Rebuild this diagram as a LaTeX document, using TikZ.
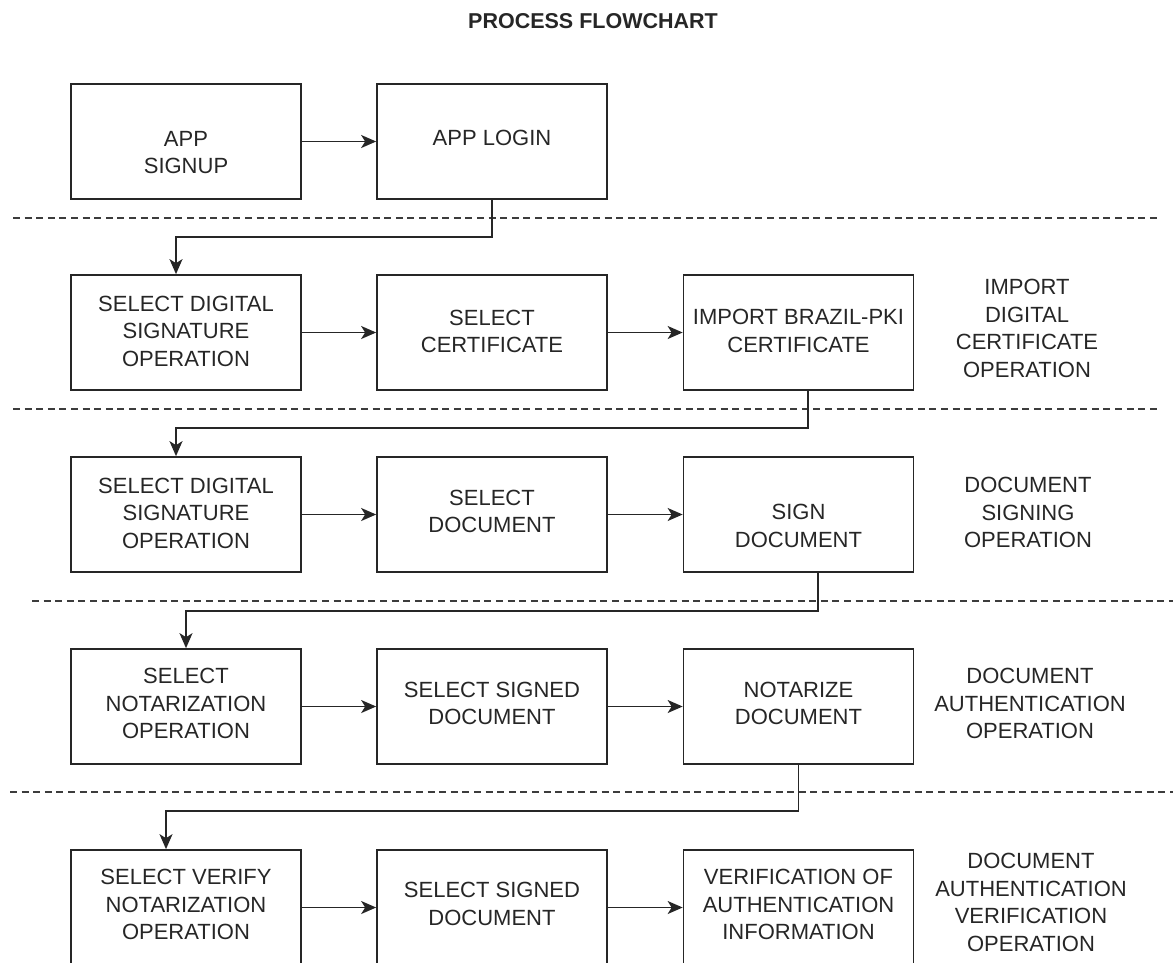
\documentclass[tikz,border=0pt]{standalone}
\usepackage{fontspec}
\setmainfont{Liberation Sans}
\usetikzlibrary{arrows.meta,calc}
\definecolor{ink}{HTML}{262626}
\begin{document}
\begin{tikzpicture}[x=1pt,y=-1pt,
  stepbox/.style={draw=ink, line width=1.7pt, minimum width=230pt, minimum height=115pt, inner sep=0pt},
  txt/.style={text=ink, align=center, font=\fontsize{22}{27.5}\selectfont, inner sep=0pt},
  flow/.style={draw=ink, line width=1.7pt, -{Stealth[length=15pt,width=13pt,inset=4pt]}},
  lane/.style={draw=ink!90, line width=1.4pt, dash pattern=on 7pt off 4.6pt},
]
\useasboundingbox (0,0) rectangle (1173,962);

% title
\node[text=ink, font=\bfseries\fontsize{21.5}{26}\selectfont, inner sep=0pt] (title) at (593,21) {PROCESS FLOWCHART};

% process boxes: columns x = 186, 492, 798.5
\node[stepbox] (b11) at (186,141.5) {};
\node[stepbox] (b12) at (492,141.5) {};
\node[stepbox] (b21) at (186,332.5) {};
\node[stepbox] (b22) at (492,332.5) {};
\node[stepbox] (b23) at (798.5,332.5) {};
\node[stepbox] (b31) at (186,514.5) {};
\node[stepbox] (b32) at (492,514.5) {};
\node[stepbox] (b33) at (798.5,514.5) {};
\node[stepbox] (b41) at (186,706.5) {};
\node[stepbox] (b42) at (492,706.5) {};
\node[stepbox] (b43) at (798.5,706.5) {};
\node[stepbox] (b51) at (186,907.5) {};
\node[stepbox] (b52) at (492,907.5) {};
\node[stepbox] (b53) at (798.5,907.5) {};

% box texts
\node[txt] (t11) at (186,152.5) {APP\\SIGNUP};
\node[txt] (t12) at (492,138) {APP LOGIN};
\node[txt] (t21) at (186,331) {SELECT DIGITAL\\SIGNATURE\\OPERATION};
\node[txt] (t22) at (492,331.5) {SELECT\\CERTIFICATE};
\node[txt] (t23) at (798.5,331) {IMPORT BRAZIL-PKI\\CERTIFICATE};
\node[txt] (t31) at (186,513) {SELECT DIGITAL\\SIGNATURE\\OPERATION};
\node[txt] (t32) at (492,511.5) {SELECT\\DOCUMENT};
\node[txt] (t33) at (798.5,526) {SIGN\\DOCUMENT};
\node[txt] (t41) at (186,703.5) {SELECT\\NOTARIZATION\\OPERATION};
\node[txt] (t42) at (492,703.5) {SELECT SIGNED\\DOCUMENT};
\node[txt] (t43) at (798.5,703.5) {NOTARIZE\\DOCUMENT};
\node[txt] (t51) at (186,904.5) {SELECT VERIFY\\NOTARIZATION\\OPERATION};
\node[txt] (t52) at (492,904) {SELECT SIGNED\\DOCUMENT};
\node[txt] (t53) at (798.5,904.5) {VERIFICATION OF\\AUTHENTICATION\\INFORMATION};

% stage labels
\node[txt] (s2) at (1027,328.5) {IMPORT\\DIGITAL\\CERTIFICATE\\OPERATION};
\node[txt] (s3) at (1028,512.5) {DOCUMENT\\SIGNING\\OPERATION};
\node[txt] (s4) at (1030,703.5) {DOCUMENT\\AUTHENTICATION\\OPERATION};
\node[txt] (s5) at (1031,902.5) {DOCUMENT\\AUTHENTICATION\\VERIFICATION\\OPERATION};

% stage separators
\coordinate (d1a) at (13,218);   \coordinate (d1b) at (1158,218);
\coordinate (d2a) at (13,409);   \coordinate (d2b) at (1158,409);
\coordinate (d3a) at (32,601);   \coordinate (d3b) at (1180,601);
\coordinate (d4a) at (10,792);   \coordinate (d4b) at (1180,792);
\draw[lane] (d1a) -- (d1b);
\draw[lane] (d2a) -- (d2b);
\draw[lane] (d3a) -- (d3b);
\draw[lane] (d4a) -- (d4b);

% horizontal flow within each stage
\draw[flow] (b11.east) -- (b12.west);
\draw[flow] (b21.east) -- (b22.west);
\draw[flow] (b22.east) -- (b23.west);
\draw[flow] (b31.east) -- (b32.west);
\draw[flow] (b32.east) -- (b33.west);
\draw[flow] (b41.east) -- (b42.west);
\draw[flow] (b42.east) -- (b43.west);
\draw[flow] (b51.east) -- (b52.west);
\draw[flow] (b52.east) -- (b53.west);

% links between stages
\coordinate (k1) at (176,237);
\coordinate (k2) at (176,428);
\coordinate (k3) at (186,611);
\coordinate (k4) at (166,811);
\draw[flow] (b12.south) |- (k1) -- (k1 |- b21.north);
\draw[flow] ([xshift=9.5pt]b23.south) |- (k2) -- (k2 |- b31.north);
\draw[flow] ([xshift=19.5pt]b33.south) |- (k3) -- (k3 |- b41.north);
\draw[flow] (b43.south) |- (k4) -- (k4 |- b51.north);
\end{tikzpicture}
\end{document}
